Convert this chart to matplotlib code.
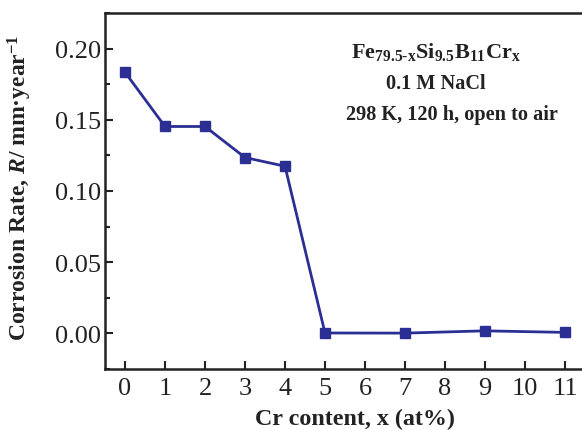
import matplotlib
matplotlib.use("Agg")
import matplotlib.pyplot as plt
from matplotlib.ticker import MultipleLocator

cr_content = [0, 1, 2, 3, 4, 5, 7, 9, 11]
corrosion_rate = [0.1834, 0.1453, 0.1453, 0.1235, 0.1174, 0.0003, 0.0002, 0.0018, 0.0007]
xtick_values = [0, 1, 2, 3, 4, 5, 6, 7, 8, 9, 10, 11]
ytick_values = [0.00, 0.05, 0.10, 0.15, 0.20]

plt.rcParams['font.family'] = ['Liberation Serif', 'DejaVu Serif']
plt.rcParams['mathtext.fontset'] = 'custom'
plt.rcParams['mathtext.rm'] = 'Liberation Serif:bold'
plt.rcParams['mathtext.it'] = 'Liberation Serif:italic:bold'
plt.rcParams['mathtext.bf'] = 'Liberation Serif:bold'

fig = plt.figure(figsize=(5.82, 4.31), dpi=100)
ax = fig.add_axes([105/582, 1-370/431, 480/582, (370-14)/431])

color = '#2b2f94'
ax.plot(cr_content, corrosion_rate, '-s', color=color, lw=2.0, ms=6.5,
        markeredgecolor=color, clip_on=False)

ax.set_xlim(-0.5, 11.5)
ax.set_ylim(-0.025, 0.225)
ax.set_xticks(xtick_values)
ax.set_yticks(ytick_values)
ax.set_yticklabels([f"{v:.2f}" for v in ytick_values])
ax.yaxis.set_minor_locator(MultipleLocator(0.025))

for s in ['left', 'bottom', 'top']:
    ax.spines[s].set_linewidth(1.8)
    ax.spines[s].set_color('#222222')
ax.spines['right'].set_visible(False)

ax.tick_params(axis='both', which='major', direction='in', length=6, width=1.5,
               labelsize=19, colors='#222222')
ax.tick_params(axis='y', which='major', pad=3)
ax.tick_params(axis='x', which='major', pad=6)
ax.tick_params(axis='y', which='minor', direction='in', length=3.5, width=1.5, colors='#222222')
ax.tick_params(axis='x', which='both', top=False)
ax.tick_params(axis='y', which='both', right=False)

ax.set_xlabel('Cr content, x (at%)', fontsize=17.3, fontweight='bold', color='#222222')
ax.xaxis.set_label_coords((355-105)/480, -(409-370)/356)
ax.set_ylabel(r'Corrosion Rate, $\mathit{R}$/ mm·year$^{\mathrm{-1}}$', fontsize=17,
              fontweight='bold', color='#222222')
ax.yaxis.set_label_coords(-(105-34)/480, (370-188)/356)

fig.text(436/582, 1-52/431, r'$\mathrm{Fe_{79.5\text{-}x}Si_{9.5}B_{11}Cr_x}$',
         ha='center', va='center', fontsize=16, color='#222222')
fig.text(436/582, 1-84/431, '0.1 M NaCl', ha='center', va='center', fontsize=14.6,
         fontweight='bold', color='#222222')
fig.text(452/582, 1-115/431, '298 K, 120 h, open to air', ha='center', va='center',
         fontsize=14.6, fontweight='bold', color='#222222')

fig.savefig('out.png', dpi=100)
